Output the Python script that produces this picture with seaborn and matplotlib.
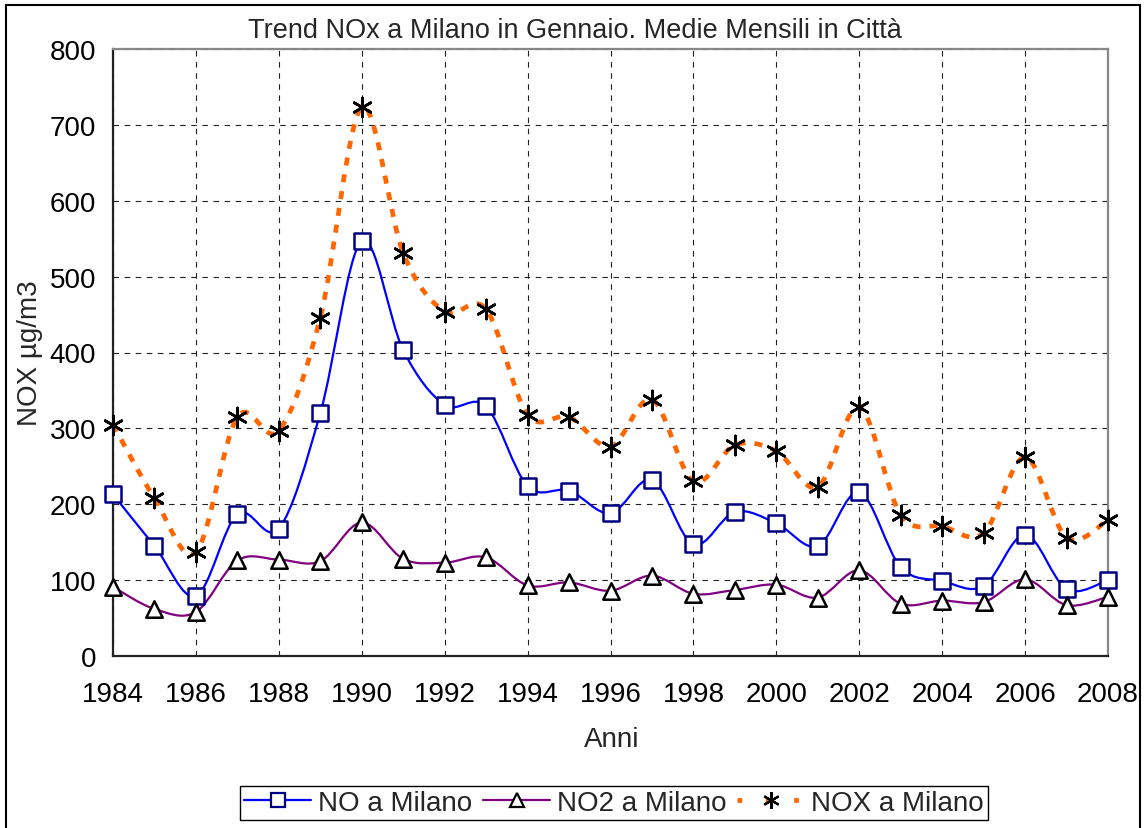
import matplotlib
matplotlib.use('Agg')
import matplotlib.pyplot as plt
from matplotlib.path import Path
from matplotlib.patches import PathPatch, Rectangle
from matplotlib.lines import Line2D
import numpy as np
import pandas as pd
import seaborn as sns

years = list(range(1984, 2009))
no_milano = [213, 145, 79, 187, 168, 320, 547, 403, 331, 329, 224, 218, 188,
             232, 147, 190, 175, 145, 216, 117, 99, 92, 160, 88, 100]
no2_milano = [91, 62, 58, 126, 127, 125, 176, 128, 123, 130, 93, 97, 86,
              106, 82, 87, 94, 77, 113, 69, 73, 71, 101, 67, 78]
nox_milano = [305, 208, 137, 315, 297, 446, 723, 531, 454, 457, 318, 315, 276,
              338, 230, 278, 270, 223, 328, 186, 171, 162, 262, 156, 179]

series_names = ['NO a Milano', 'NO2 a Milano', 'NOX a Milano']
title = 'Trend NOx a Milano in Gennaio. Medie Mensili in Città'
y_label = 'NOX µg/m3'
x_label = 'Anni'


def smooth_path(xs, ys):
    # Excel-like smoothed line: cubic Bezier segments through the points
    pts = np.column_stack([xs, ys]).astype(float)
    n = len(pts)
    verts = [pts[0]]
    codes = [Path.MOVETO]
    for i in range(n - 1):
        p0 = pts[i - 1] if i > 0 else pts[i]
        p1 = pts[i]
        p2 = pts[i + 1]
        p3 = pts[i + 2] if i + 2 < n else pts[i + 1]
        c1 = p1 + (p2 - p0) / 6.0
        c2 = p2 - (p3 - p1) / 6.0
        verts += [c1, c2, p2]
        codes += [Path.CURVE4] * 3
    return Path(verts, codes)


sns.set_style('white')
plt.rcParams['font.family'] = ['Liberation Sans', 'DejaVu Sans']

fig = plt.figure(figsize=(11.44, 8.29), dpi=100)
ax = fig.add_axes([113 / 1144, 1 - 657 / 829, 995 / 1144, 607 / 829])

df = pd.DataFrame({'year': years, 'NO': no_milano, 'NO2': no2_milano, 'NOX': nox_milano})

styles = {
    'NO': dict(color='#0000FF', lw=1.6, ls='-'),
    'NO2': dict(color='#800080', lw=1.6, ls='-'),
    'NOX': dict(color='#FF6600', lw=3.4, ls=(0, (1.7, 1.9))),
}
for key, st in styles.items():
    patch = PathPatch(smooth_path(df['year'], df[key]), fill=False,
                      edgecolor=st['color'], lw=st['lw'], linestyle=st['ls'],
                      zorder=3, capstyle='butt')
    ax.add_patch(patch)

sns.scatterplot(data=df, x='year', y='NO', marker='s', s=120, facecolor='white',
                edgecolor='#000080', linewidth=1.8, ax=ax, zorder=4, clip_on=False)
sns.scatterplot(data=df, x='year', y='NO2', marker='^', s=140, facecolor='white',
                edgecolor='black', linewidth=1.8, ax=ax, zorder=4, clip_on=False)
sns.scatterplot(data=df, x='year', y='NOX', marker=(6, 2, 0), s=190, color='black',
                linewidth=1.9, ax=ax, zorder=5, clip_on=False)

ax.set_xlim(1984, 2008)
ax.set_ylim(0, 800)
ax.set_xticks(range(1984, 2009, 2))
ax.set_yticks(range(0, 801, 100))
ax.grid(True, color='#222222', linestyle=(0, (5, 5)), linewidth=0.8)
ax.set_axisbelow(True)
ax.tick_params(axis='both', labelsize=20, colors='black', direction='out')
ax.tick_params(axis='y', length=7, width=1.2, color='#333333', pad=5)
ax.tick_params(axis='x', length=4, width=1.0, color='#333333', pad=14)
ax.set_xlabel('')
ax.set_ylabel('')
for side in ['left', 'bottom']:
    ax.spines[side].set_color('#222222')
    ax.spines[side].set_linewidth(1.6)
for side in ['top', 'right']:
    ax.spines[side].set_color('#888888')
    ax.spines[side].set_linewidth(1.6)

fig.text(575 / 1144, 1 - 31 / 829, title, ha='center', va='center', fontsize=19.5)
fig.text(30 / 1144, 1 - 353 / 829, y_label, ha='center', va='center', fontsize=20, rotation=90)
fig.text(612 / 1144, 1 - 740 / 829, x_label, ha='center', va='center', fontsize=20)

handles = [
    Line2D([], [], color='#0000FF', lw=1.6, marker='s', markersize=10,
           markerfacecolor='white', markeredgecolor='#000080', markeredgewidth=1.6),
    Line2D([], [], color='#800080', lw=1.6, marker='^', markersize=10,
           markerfacecolor='white', markeredgecolor='black', markeredgewidth=1.6),
    Line2D([], [], color='#FF6600', lw=3.4, ls=(0, (1.0, 5.0)), marker=(6, 2, 0),
           markersize=12, markeredgecolor='black', markeredgewidth=1.6),
]
leg = fig.legend(handles, series_names, loc='center', ncol=3,
                 bbox_to_anchor=(614 / 1144, 1 - 804 / 829), fontsize=20,
                 frameon=True, fancybox=False, edgecolor='black', framealpha=1,
                 handlelength=2.4, handletextpad=0.25, columnspacing=0.4,
                 borderpad=0.15, borderaxespad=0)
leg.get_frame().set_linewidth(1.0)

fig.patches.append(Rectangle((6 / 1144, -0.01), 1134 / 1144, 1 - 6 / 829 + 0.01,
                             transform=fig.transFigure, fill=False,
                             edgecolor='black', lw=1.5))

fig.savefig('out.png', dpi=100)
